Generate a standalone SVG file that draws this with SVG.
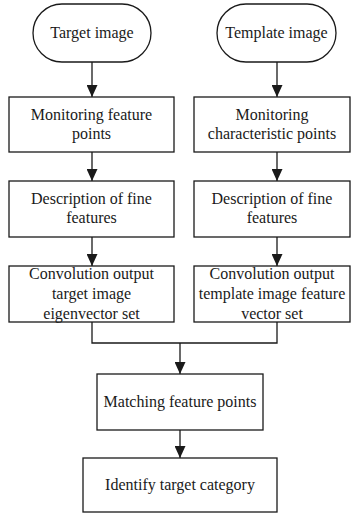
<svg xmlns="http://www.w3.org/2000/svg" width="353" height="515" viewBox="0 0 353 515">
<style>
.box{fill:#fff;stroke:#1a1a1a;stroke-width:1.3}
.t{font-family:"Liberation Serif","Times New Roman",serif;font-size:16px;fill:#1a1a1a;text-anchor:middle}
.c{fill:none;stroke:#1a1a1a;stroke-width:1.3}
</style>
<defs>
<marker id="ah" markerUnits="userSpaceOnUse" markerWidth="12" markerHeight="11" refX="12" refY="5.5" orient="auto">
<path d="M0,0 L12,5.5 L0,11 z" fill="#1a1a1a"/>
</marker>
</defs>
<rect width="353" height="515" fill="#fff"/>
<g id="connectors">
<line class="c" x1="92" y1="62" x2="92" y2="97" marker-end="url(#ah)"/>
<line class="c" x1="92" y1="152" x2="92" y2="181" marker-end="url(#ah)"/>
<line class="c" x1="92" y1="237" x2="92" y2="266" marker-end="url(#ah)"/>
<line class="c" x1="277" y1="62" x2="277" y2="97" marker-end="url(#ah)"/>
<line class="c" x1="277" y1="152" x2="277" y2="181" marker-end="url(#ah)"/>
<line class="c" x1="277" y1="237" x2="277" y2="266" marker-end="url(#ah)"/>
<polyline class="c" points="92,322 92,343 277,343 277,322"/>
<line class="c" x1="180" y1="343" x2="180" y2="374" marker-end="url(#ah)"/>
<line class="c" x1="180" y1="430" x2="180" y2="458" marker-end="url(#ah)"/>
</g>
<g id="target-image">
<rect class="box" x="33" y="4" width="118" height="58" rx="29"/>
<text class="t" x="92" y="38">Target image</text>
</g>
<g id="template-image">
<rect class="box" x="217" y="4" width="119" height="58" rx="29"/>
<text class="t" x="276.5" y="38">Template image</text>
</g>
<g id="monitoring-feature">
<rect class="box" x="9" y="97" width="165" height="55"/>
<text class="t" x="91.5" y="120">Monitoring feature</text>
<text class="t" x="91.5" y="139">points</text>
</g>
<g id="monitoring-characteristic">
<rect class="box" x="194" y="97" width="156" height="55"/>
<text class="t" x="272" y="120">Monitoring</text>
<text class="t" x="272" y="139">characteristic points</text>
</g>
<g id="description-left">
<rect class="box" x="9" y="181" width="165" height="56"/>
<text class="t" x="91.5" y="204">Description of fine</text>
<text class="t" x="91.5" y="223">features</text>
</g>
<g id="description-right">
<rect class="box" x="194" y="181" width="156" height="56"/>
<text class="t" x="272" y="204">Description of fine</text>
<text class="t" x="272" y="223">features</text>
</g>
<g id="convolution-left">
<rect class="box" x="9" y="266" width="165" height="56"/>
<text class="t" x="91.5" y="279">Convolution output</text>
<text class="t" x="91.5" y="299">target image</text>
<text class="t" x="91.5" y="319">eigenvector set</text>
</g>
<g id="convolution-right">
<rect class="box" x="194" y="266" width="156" height="56"/>
<text class="t" x="272" y="279">Convolution output</text>
<text class="t" x="272" y="299">template image feature</text>
<text class="t" x="272" y="319">vector set</text>
</g>
<g id="matching">
<rect class="box" x="97" y="374" width="166" height="56"/>
<text class="t" x="180" y="407">Matching feature points</text>
</g>
<g id="identify">
<rect class="box" x="83" y="458" width="194" height="54"/>
<text class="t" x="180" y="490">Identify target category</text>
</g>
</svg>
